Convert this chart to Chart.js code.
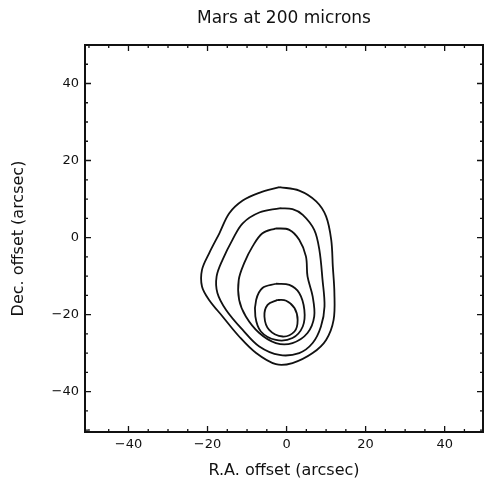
<!DOCTYPE html>
<html>
<head>
<meta charset="utf-8">
<script src="https://cdn.jsdelivr.net/npm/chart.js@4"></script>
<style>
  html, body { margin: 0; padding: 0; background: #fff; }
  #wrap { width: 484px; height: 488px; }
</style>
</head>
<body>
<div id="wrap"><canvas id="myChart"></canvas></div>
<script>
// contour levels of the 200 micron map, [R.A. offset, Dec. offset] in arcsec
const contour1 = [[-1.8, 13.1], [-6.9, 11.6], [-11.1, 9.6], [-14.5, 6.3], [-17.0, 1.1], [-19.6, -4.1],
  [-21.4, -8.4], [-21.4, -12.7], [-19.6, -16.2], [-16.2, -20.5], [-12.0, -25.7], [-7.7, -30.0],
  [-2.7, -32.9], [1.5, -32.6], [6.6, -30.0], [10.0, -26.6], [11.9, -21.4], [12.1, -14.4],
  [11.7, -7.5], [11.3, -0.6], [10.0, 5.5], [7.5, 9.4], [3.2, 12.2]];
const contour2 = [[-1.8, 7.6], [-6.9, 6.5], [-11.1, 3.7], [-13.7, -0.6], [-16.2, -5.8], [-17.7, -10.1],
  [-17.5, -14.4], [-15.3, -18.8], [-11.1, -24.0], [-6.9, -28.3], [-1.8, -30.5], [3.2, -30.0],
  [6.6, -27.4], [8.7, -23.1], [9.6, -17.9], [9.1, -11.0], [8.3, -3.2], [7.0, 2.0], [4.1, 5.9], [1.5, 7.4]];
const contour3 = [[-2.7, 2.4], [-6.1, 1.1], [-8.6, -2.3], [-10.7, -6.6], [-12.1, -11.0], [-12.0, -16.2],
  [-10.3, -20.5], [-6.9, -24.8], [-2.7, -27.4], [1.5, -27.4], [5.3, -24.8], [7.0, -20.5],
  [6.6, -15.3], [5.3, -10.1], [4.9, -4.9], [3.2, -0.6], [0.7, 2.0]];
const contour4 = [[-2.7, -12.0], [-6.1, -13.1], [-7.7, -16.2], [-7.9, -20.5], [-6.5, -24.4], [-2.7, -26.6],
  [1.5, -26.1], [4.1, -23.1], [4.5, -18.8], [3.2, -14.4], [0.7, -12.3]];
const contour5 = [[-2.3, -16.2], [-4.8, -17.5], [-5.6, -20.5], [-4.4, -24.0], [-1.0, -25.7], [2.0, -24.4],
  [2.8, -21.4], [2.0, -18.3], [-0.1, -16.4]];

const xTickValues = [-40, -20, 0, 20, 40];
const xTickLabels = ["\u221240", "\u221220", "0", "20", "40"];
const yTickValues = [-40, -20, 0, 20, 40];
const yTickLabels = ["\u221240", "\u221220", "0", "20", "40"];

const contours = [contour1, contour2, contour3, contour4, contour5];

function closed(pts) {
  const out = pts.map(p => ({ x: p[0], y: p[1] }));
  out.push({ x: pts[0][0], y: pts[0][1] });
  return out;
}

// inward ticks on all four sides plus the frame
const frameTicks = {
  id: "frameTicks",
  afterDraw(chart) {
    const { ctx, chartArea: a } = chart;
    const xs = chart.scales.x, ys = chart.scales.y;
    ctx.save();
    ctx.strokeStyle = "#111";
    ctx.lineWidth = 1.3;
    ctx.beginPath();
    for (let v = -50; v <= 50; v += 5) {
      if (v < xs.min || v > xs.max) continue;
      const px = xs.getPixelForValue(v);
      const len = v % 20 === 0 ? 6 : 3;
      ctx.moveTo(px, a.bottom); ctx.lineTo(px, a.bottom - len);
      ctx.moveTo(px, a.top); ctx.lineTo(px, a.top + len);
    }
    for (let v = -50; v <= 50; v += 5) {
      if (v < ys.min || v > ys.max) continue;
      const py = ys.getPixelForValue(v);
      const len = v % 20 === 0 ? 6 : 3;
      ctx.moveTo(a.left, py); ctx.lineTo(a.left + len, py);
      ctx.moveTo(a.right, py); ctx.lineTo(a.right - len, py);
    }
    ctx.stroke();
    ctx.lineWidth = 2;
    ctx.strokeRect(a.left, a.top, a.right - a.left, a.bottom - a.top);
    ctx.restore();
  }
};

const data = {
  datasets: contours.map((c, i) => ({
    label: "level " + (i + 1),
    data: closed(c),
    showLine: true,
    borderColor: "#111",
    borderWidth: 1.8,
    pointRadius: 0,
    tension: 0.35,
    fill: false,
  })),
};

const config = {
  type: "scatter",
  data: data,
  options: {
    responsive: true,
    maintainAspectRatio: false,
    animation: false,
    layout: { padding: { right: 1, left: 0, bottom: 0, top: 0 } },
    plugins: {
      legend: { display: false },
      tooltip: { enabled: false },
      title: {
        display: true,
        text: "Mars at 200 microns",
        fullSize: false,
        color: "#111",
        font: { family: "DejaVu Sans", size: 17, weight: "normal" },
        padding: { top: 8, bottom: 16.6 },
      },
    },
    scales: {
      x: {
        type: "linear",
        min: -51,
        max: 49.7,
        grid: { display: false, drawTicks: false },
        border: { display: false },
        afterBuildTicks: (s) => { s.ticks = xTickValues.map(v => ({ value: v })); },
        afterFit: (s) => { s.height = 56; },
        ticks: {
          color: "#111",
          padding: 5,
          maxRotation: 0,
          font: { family: "DejaVu Sans", size: 13 },
          callback: (v) => xTickLabels[xTickValues.indexOf(v)],
        },
        title: {
          display: true,
          text: "R.A. offset (arcsec)",
          color: "#111",
          font: { family: "DejaVu Sans", size: 16 },
          padding: { top: 10, bottom: 8 },
        },
      },
      y: {
        type: "linear",
        min: -50.5,
        max: 50,
        grid: { display: false, drawTicks: false },
        border: { display: false },
        afterBuildTicks: (s) => { s.ticks = yTickValues.map(v => ({ value: v })); },
        afterFit: (s) => { s.width = 85; },
        ticks: {
          color: "#111",
          padding: 6,
          font: { family: "DejaVu Sans", size: 13 },
          callback: (v) => yTickLabels[yTickValues.indexOf(v)],
        },
        title: {
          display: true,
          text: "Dec. offset (arcsec)",
          color: "#111",
          font: { family: "DejaVu Sans", size: 16 },
          padding: { top: 9, bottom: 8 },
        },
      },
    },
  },
  plugins: [frameTicks],
};
const myChart = new Chart(document.getElementById("myChart"), config);
</script>
</body>
</html>
